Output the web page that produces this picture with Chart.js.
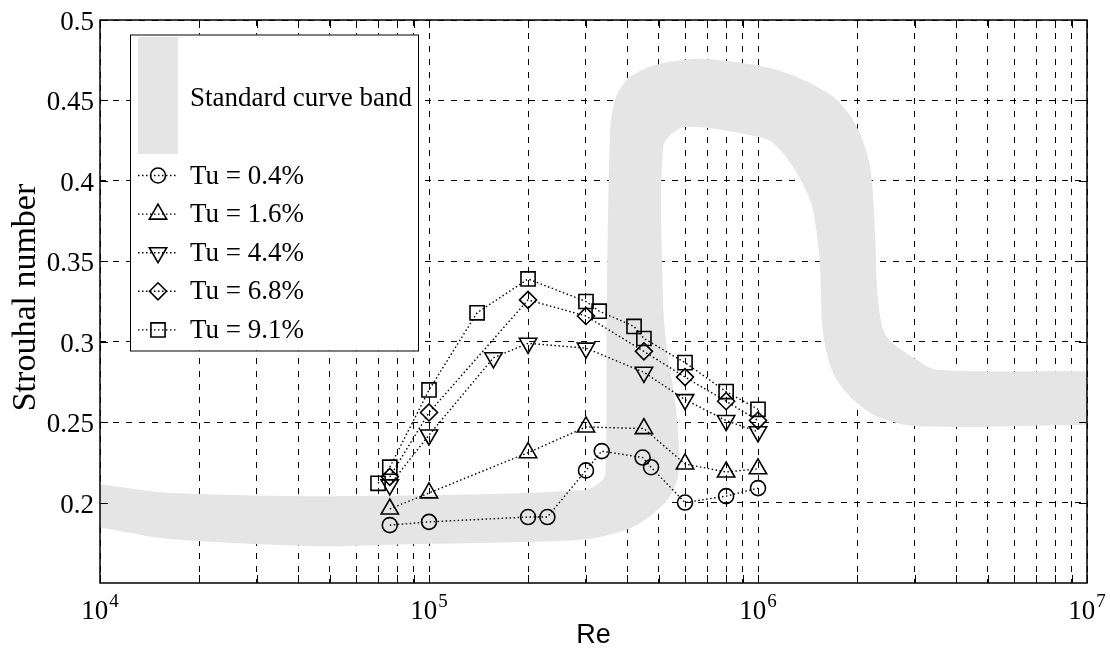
<!DOCTYPE html>
<html><head><meta charset="utf-8">
<script src="https://cdn.jsdelivr.net/npm/chart.js@4/dist/chart.umd.min.js"></script>
<style>html,body{margin:0;padding:0;background:#fff}#wrap{width:1110px;height:655px;position:relative}</style>
</head><body><div id="wrap"><canvas id="c" width="1110" height="655"></canvas></div>
<script>
// ---- data ----
const re04 = [76000, 100000, 200000, 229000, 300000, 335000, 446000, 473000, 600000, 800000, 1000000];
const st04 = [0.186, 0.188, 0.191, 0.191, 0.220, 0.232, 0.228, 0.222, 0.200, 0.204, 0.209];
const re16 = [76000, 100000, 200000, 300000, 450000, 600000, 800000, 1000000];
const st16 = [0.196, 0.206, 0.231, 0.247, 0.246, 0.224, 0.219, 0.221];
const re44 = [76000, 100000, 157000, 200000, 300000, 450000, 600000, 800000, 1000000];
const st44 = [0.211, 0.242, 0.290, 0.299, 0.296, 0.281, 0.264, 0.251, 0.244];
const re68 = [76000, 100000, 200000, 300000, 450000, 600000, 800000, 1000000];
const st68 = [0.216, 0.256, 0.326, 0.316, 0.294, 0.278, 0.263, 0.251];
const re91 = [70000, 76000, 100000, 140000, 200000, 300000, 329000, 420000, 450000, 600000, 800000, 1000000];
const st91 = [0.212, 0.222, 0.270, 0.318, 0.339, 0.325, 0.319, 0.3095, 0.302, 0.287, 0.269, 0.258];
// outline of the grey "standard curve band" (polygon, clockwise; ends run past the axis edges)
const bandRe = [7000, 10000, 15760, 51050, 293800, 338000, 345000, 346600, 354900, 367600, 399000, 469600, 621400, 839500, 1191000, 1690000, 1995000, 2190000, 2268000, 2316000, 2460000, 3037000, 3493000, 10000000, 14000000,
  14000000, 10000000, 3037000, 2295000, 1904000, 1690000, 1576000, 1543000, 1508000, 1439000, 1277000, 1111000, 990900, 714500, 579400, 515500, 514300, 528900, 559400, 575400, 571300, 540300, 469600, 399800, 293800, 81630, 44410, 15760, 10000, 7000, 7000];
const bandSt = [0.2125, 0.2112, 0.2062, 0.2039, 0.2076, 0.2143, 0.2267, 0.3056, 0.4298, 0.4503, 0.4627, 0.4710, 0.4756, 0.4741, 0.4679, 0.4524, 0.4337, 0.4089, 0.3677, 0.3261, 0.3033, 0.2888, 0.2826, 0.2816, 0.2816,
  0.2484, 0.2484, 0.2474, 0.2536, 0.2660, 0.2807, 0.3056, 0.3468, 0.3677, 0.3882, 0.4089, 0.4236, 0.4275, 0.4327, 0.4327, 0.4213, 0.3261, 0.2950, 0.2640, 0.2329, 0.2163, 0.2039, 0.1915, 0.1832, 0.1770, 0.1739, 0.1729, 0.1776, 0.1845, 0.1870, 0.2125];
const seriesLabels = ['Tu = 0.4%', 'Tu = 1.6%', 'Tu = 4.4%', 'Tu = 6.8%', 'Tu = 9.1%'];
const bandLabel = 'Standard curve band';
const xMajorTicks = [1e4, 1e5, 1e6, 1e7];
const xTickExponents = ['4', '5', '6', '7'];
const yTicks = [0.2, 0.25, 0.3, 0.35, 0.4, 0.45, 0.5];
const yTickLabels = ['0.2', '0.25', '0.3', '0.35', '0.4', '0.45', '0.5'];
const xTitle = 'Re';
const yTitle = 'Strouhal number';

// minor grid positions 1..9 x 10^k
const xGrid = [];
for (let k = 0; k < xMajorTicks.length - 1; k++) for (let m = 1; m < 10; m++) xGrid.push(m * xMajorTicks[k]);
xGrid.push(xMajorTicks[xMajorTicks.length - 1]);

const pts = (xs, ys) => xs.map((x, i) => ({x, y: ys[i]}));
const markers = [
  {style: 'circle', r: 7.5, rot: 0},
  {style: 'triangle', r: 10, rot: 0},
  {style: 'triangle', r: 10, rot: 180},
  {style: 'rectRot', r: 8.5, rot: 0},
  {style: 'rect', r: 10, rot: 0}
];
const seriesData = [[re04, st04], [re16, st16], [re44, st44], [re68, st68], [re91, st91]];
const SERIF = '"Liberation Serif", "Times New Roman", serif';
const SANS = '"Liberation Sans", Arial, sans-serif';
const BAND = '#e5e5e5';

const datasets = [{
  label: bandLabel, data: pts(bandRe, bandSt), fill: 'shape', backgroundColor: BAND,
  borderColor: BAND, borderWidth: 0, pointRadius: 0, pointHoverRadius: 0, tension: 0.3, order: 10
}];
seriesData.forEach((d, i) => datasets.push({
  label: seriesLabels[i], data: pts(d[0], d[1]), fill: false,
  borderColor: '#000', borderWidth: 1.4, borderDash: [1.5, 2.5], tension: 0,
  pointStyle: markers[i].style, pointRadius: markers[i].r, pointRotation: markers[i].rot,
  pointBorderWidth: 1.6, pointBorderColor: '#000', pointBackgroundColor: 'rgba(0,0,0,0)',
  pointHoverRadius: markers[i].r, order: 1
}));

function marker(ctx, style, r, rot, x, y) {
  ctx.beginPath();
  if (style === 'circle') ctx.arc(x, y, r, 0, Math.PI * 2);
  else if (style === 'triangle') {
    let a = rot * Math.PI / 180;
    for (let k = 0; k < 3; k++) { const px = x + Math.sin(a) * r, py = y - Math.cos(a) * r; k ? ctx.lineTo(px, py) : ctx.moveTo(px, py); a += 2 * Math.PI / 3; }
    ctx.closePath();
  } else if (style === 'rectRot') {
    ctx.moveTo(x - r, y); ctx.lineTo(x, y - r); ctx.lineTo(x + r, y); ctx.lineTo(x, y + r); ctx.closePath();
  } else { const s = Math.SQRT1_2 * r; ctx.rect(x - s, y - s, 2 * s, 2 * s); }
  ctx.stroke();
}

const decor = {
  id: 'decor',
  afterDraw(chart) {
    const {ctx, chartArea: a, scales: {x, y}} = chart;
    ctx.save();
    // inner tick marks
    ctx.strokeStyle = '#000'; ctx.lineWidth = 1; ctx.setLineDash([]);
    ctx.beginPath();
    xGrid.forEach(v => { const px = Math.round(x.getPixelForValue(v)) + 0.5; ctx.moveTo(px, a.bottom); ctx.lineTo(px, a.bottom - 8); ctx.moveTo(px, a.top); ctx.lineTo(px, a.top + 8); });
    yTicks.forEach(v => { const py = Math.round(y.getPixelForValue(v)) + 0.5; ctx.moveTo(a.left, py); ctx.lineTo(a.left + 8, py); ctx.moveTo(a.right, py); ctx.lineTo(a.right - 8, py); });
    ctx.stroke();
    // frame
    ctx.lineWidth = 1.5;
    ctx.strokeRect(a.left, a.top, a.right - a.left, a.bottom - a.top);
    // y tick labels
    ctx.fillStyle = '#000';
    ctx.font = '27px ' + SERIF; ctx.textAlign = 'right'; ctx.textBaseline = 'alphabetic';
    yTicks.forEach((v, i) => ctx.fillText(yTickLabels[i], a.left - 6, y.getPixelForValue(v) + 10));
    // x tick labels 10^k
    xMajorTicks.forEach((v, i) => {
      const px = x.getPixelForValue(v);
      ctx.font = '27px ' + SERIF; const w1 = ctx.measureText('10').width;
      ctx.font = '19px ' + SERIF; const w2 = ctx.measureText(xTickExponents[i]).width;
      const x0 = px - (w1 + w2 + 1) / 2;
      ctx.textAlign = 'left';
      ctx.font = '27px ' + SERIF; ctx.fillText('10', x0, a.bottom + 36);
      ctx.font = '19px ' + SERIF; ctx.fillText(xTickExponents[i], x0 + w1 + 1, a.bottom + 24);
    });
    // axis titles
    ctx.textAlign = 'center';
    ctx.font = '27px ' + SANS; ctx.fillText(xTitle, (a.left + a.right) / 2, a.bottom + 60);
    ctx.save(); ctx.translate(35, (a.top + a.bottom) / 2 - 4); ctx.rotate(-Math.PI / 2);
    ctx.font = '34px ' + SERIF; ctx.fillText(yTitle, 0, 0); ctx.restore();
    // legend
    const L = a.left + 30, T = a.top + 14.5, W = 288, H = 316;
    ctx.fillStyle = '#fff'; ctx.fillRect(L, T, W, H);
    ctx.lineWidth = 1; ctx.strokeStyle = '#000'; ctx.strokeRect(L + 0.5, T + 0.5, W, H);
    ctx.fillStyle = BAND; ctx.fillRect(L + 8, T + 2.5, 40, 117);
    ctx.fillStyle = '#000'; ctx.font = '27px ' + SERIF; ctx.textAlign = 'left';
    ctx.fillText(bandLabel, L + 60, T + 71.5);
    for (let i = 0; i < 5; i++) {
      const yy = T + 141 + i * 38.6;
      ctx.lineWidth = 1.4; ctx.setLineDash([1.5, 2.5]);
      ctx.beginPath(); ctx.moveTo(L + 8, yy); ctx.lineTo(L + 48, yy); ctx.stroke();
      ctx.setLineDash([]); ctx.lineWidth = 1.6;
      marker(ctx, markers[i].style, markers[i].r, markers[i].rot, L + 28, yy);
      ctx.fillText(seriesLabels[i], L + 60, yy + 8);
    }
    ctx.restore();
  }
};

new Chart(document.getElementById('c'), {
  type: 'line',
  data: {datasets},
  options: {
    responsive: false, animation: false, devicePixelRatio: 1,
    layout: {padding: {left: 100, right: 23, top: 20, bottom: 72}},
    plugins: {legend: {display: false}, tooltip: {enabled: false}},
    events: [],
    scales: {
      x: {
        type: 'logarithmic', min: 1e4, max: 1e7,
        ticks: {display: false},
        grid: {color: '#000', lineWidth: 1, drawTicks: false},
        border: {display: false, dash: [6, 7]},
        afterBuildTicks: s => { s.ticks = xGrid.map(v => ({value: v})); },
        afterFit: s => { s.height = 0; }
      },
      y: {
        type: 'linear', min: 0.15, max: 0.5,
        ticks: {display: false},
        grid: {color: '#000', lineWidth: 1, drawTicks: false},
        border: {display: false, dash: [6, 7]},
        afterBuildTicks: s => { s.ticks = yTicks.map(v => ({value: v})); },
        afterFit: s => { s.width = 0; }
      }
    }
  },
  plugins: [decor]
});
</script></body></html>
